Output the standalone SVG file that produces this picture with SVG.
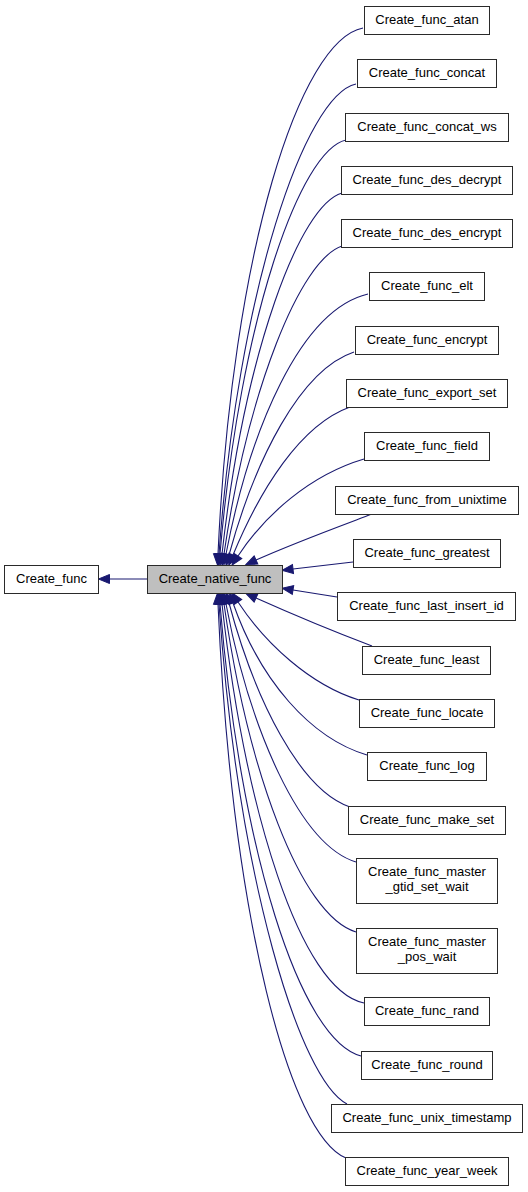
<svg xmlns="http://www.w3.org/2000/svg" width="528" height="1192" viewBox="0 0 528 1192">
<style>
.n rect{fill:#ffffff;stroke:#2a2a2a;stroke-width:1}
#native rect{fill:#bfbfbf}
.n text{font-family:"Liberation Sans",Arial,Helvetica,sans-serif;font-size:13px;fill:#000000;text-anchor:middle}
#edges path{fill:none;stroke:#191970;stroke-width:1.1;marker-end:url(#ah)}
</style>
<defs>
<marker id="ah" markerUnits="userSpaceOnUse" markerWidth="12" markerHeight="10" refX="0" refY="4.5" orient="auto" overflow="visible">
<path d="M0,0 L11,4.5 L0,9 z" fill="#191970" stroke="#191970" stroke-width="1"/>
</marker>
</defs>
<rect width="528" height="1192" fill="#ffffff"/>
<g id="edges">
<path d="M147,579 L109.5,579"/>
<path d="M363,28 C300,40 232,250 218,554"/>
<path d="M356,84 C305,95 238,290 219,554"/>
<path d="M346,140 C300,150 240,320 220,554"/>
<path d="M342,193 C300,205 245,350 222,554"/>
<path d="M342,246 C300,260 248,390 224,554"/>
<path d="M368,294 C300,310 250,430 226,554"/>
<path d="M354,352 C300,370 255,460 229,555"/>
<path d="M350,407 C300,425 260,490 233,555"/>
<path d="M364,459 C310,475 265,515 238,556"/>
<path d="M372,514 C335,528 294,543 256,560"/>
<path d="M353,562 L293,569"/>
<path d="M337,597 L293,590"/>
<path d="M372,646 C335,632 294,615 256,598"/>
<path d="M359,700 C310,685 265,643 238,602"/>
<path d="M367,755 C310,738 260,680 233,603"/>
<path d="M350,807 C300,790 255,700 229,603"/>
<path d="M356,862 C300,845 250,730 226,604"/>
<path d="M356,932 C300,915 248,770 224,604"/>
<path d="M364,1003 C300,990 245,810 222,604"/>
<path d="M361,1056 C300,1040 240,850 220,604"/>
<path d="M347,1104 C300,1080 238,880 219,604"/>
<path d="M346,1158 C290,1135 232,920 218,604"/>
</g>
<g id="create_func" class="n"><rect x="4.5" y="565.5" width="94" height="28"/><text x="51.5" y="582.5">Create_func</text></g>
<g id="native" class="n"><rect x="147.5" y="565.5" width="135" height="28"/><text x="215" y="582.5">Create_native_func</text></g>
<g id="atan" class="n"><rect x="364.5" y="6.5" width="125" height="28"/><text x="427" y="23.5">Create_func_atan</text></g>
<g id="concat" class="n"><rect x="357.5" y="59.5" width="139" height="28"/><text x="427" y="76.5">Create_func_concat</text></g>
<g id="concat_ws" class="n"><rect x="345.5" y="113.5" width="163" height="28"/><text x="427" y="130.5">Create_func_concat_ws</text></g>
<g id="des_decrypt" class="n"><rect x="341.5" y="166.5" width="171" height="28"/><text x="427" y="183.5">Create_func_des_decrypt</text></g>
<g id="des_encrypt" class="n"><rect x="341.5" y="219.5" width="171" height="28"/><text x="427" y="236.5">Create_func_des_encrypt</text></g>
<g id="elt" class="n"><rect x="369.5" y="272.5" width="115" height="28"/><text x="427" y="289.5">Create_func_elt</text></g>
<g id="encrypt" class="n"><rect x="355.5" y="326.5" width="143" height="28"/><text x="427" y="343.5">Create_func_encrypt</text></g>
<g id="export_set" class="n"><rect x="346.5" y="379.5" width="161" height="28"/><text x="427" y="396.5">Create_func_export_set</text></g>
<g id="field" class="n"><rect x="364.5" y="432.5" width="125" height="28"/><text x="427" y="449.5">Create_func_field</text></g>
<g id="from_unixtime" class="n"><rect x="335.5" y="486.5" width="183" height="28"/><text x="427" y="503.5">Create_func_from_unixtime</text></g>
<g id="greatest" class="n"><rect x="353.5" y="539.5" width="147" height="28"/><text x="427" y="556.5">Create_func_greatest</text></g>
<g id="last_insert_id" class="n"><rect x="337.5" y="592.5" width="178" height="28"/><text x="426.5" y="609.5">Create_func_last_insert_id</text></g>
<g id="least" class="n"><rect x="362.5" y="646.5" width="128" height="28"/><text x="426.5" y="663.5">Create_func_least</text></g>
<g id="locate" class="n"><rect x="359.5" y="699.5" width="135" height="28"/><text x="427" y="716.5">Create_func_locate</text></g>
<g id="log" class="n"><rect x="367.5" y="752.5" width="119" height="28"/><text x="427" y="769.5">Create_func_log</text></g>
<g id="make_set" class="n"><rect x="348.5" y="806.5" width="157" height="28"/><text x="427" y="823.5">Create_func_make_set</text></g>
<g id="master_gtid_set_wait" class="n"><rect x="356.5" y="858.5" width="141" height="45"/><text x="427" y="875.5">Create_func_master</text><text x="427" y="890.5">_gtid_set_wait</text></g>
<g id="master_pos_wait" class="n"><rect x="356.5" y="928.5" width="141" height="45"/><text x="427" y="945.5">Create_func_master</text><text x="427" y="960.5">_pos_wait</text></g>
<g id="rand" class="n"><rect x="364.5" y="997.5" width="125" height="28"/><text x="427" y="1014.5">Create_func_rand</text></g>
<g id="round" class="n"><rect x="361.5" y="1051.5" width="131" height="28"/><text x="427" y="1068.5">Create_func_round</text></g>
<g id="unix_timestamp" class="n"><rect x="331.5" y="1104.5" width="191" height="28"/><text x="427" y="1121.5">Create_func_unix_timestamp</text></g>
<g id="year_week" class="n"><rect x="345.5" y="1157.5" width="163" height="28"/><text x="427" y="1174.5">Create_func_year_week</text></g>
</svg>
